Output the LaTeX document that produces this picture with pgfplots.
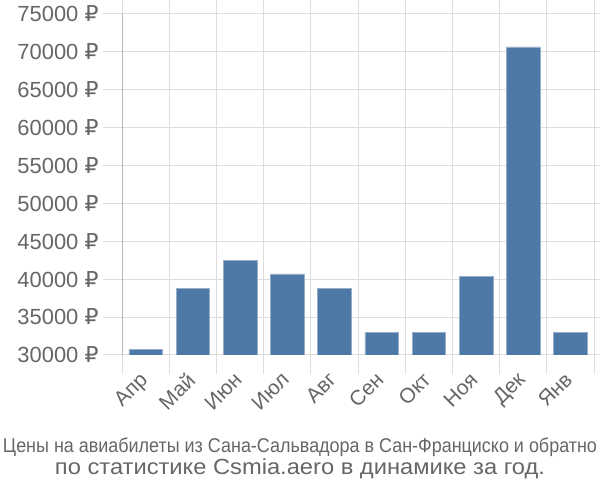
\documentclass[border=0pt]{standalone}
\usepackage{pgfplots}
\pgfplotsset{compat=1.18}
\usepackage{fontspec}
\usepackage{graphicx}
\setmainfont{Liberation Sans}
\newfontfamily\rub{DejaVu Sans}
\definecolor{barc}{RGB}{78,121,167}
\definecolor{gridc}{RGB}{221,221,221}
\definecolor{axc}{RGB}{165,165,165}
\definecolor{txtc}{RGB}{102,102,102}
\begin{document}
\begin{tikzpicture}[x=1bp,y=1bp]
\useasboundingbox (0,0) rectangle (600,500);
\begin{axis}[
  at={(122bp,145bp)}, anchor=south west,
  scale only axis, width=472bp, height=341bp,
  xmin=-0.5, xmax=9.5, ymin=30000, ymax=75000,
  axis line style={draw=none},
  xtick={-0.5,0.5,...,9.5},
  xticklabels={},
  xmajorgrids=true,
  ytick={30000,35000,...,75000},
  scaled y ticks=false,
  ymajorgrids=true,
  grid style={draw=gridc, line width=1bp},
  tick align=outside,
  major tick length=19bp,
  tick style={draw=gridc, line width=1bp},
  yticklabel={\pgfmathprintnumber[fixed,precision=0,set thousands separator={}]{\tick}~{\rub ₽}},
  /pgf/number format/assume math mode=true,
  yticklabel style={font=\fontsize{22}{24}\selectfont, text=txtc, xshift=-1bp},
  extra x ticks={0,...,9},
  extra x tick labels={Апр,Май,Июн,Июл,Авг,Сен,Окт,Ноя,Дек,Янв},
  extra x tick style={
    tick style={draw=none},
    grid style={draw=none},
    xticklabel style={font=\fontsize{21}{24}\selectfont, text=txtc, rotate=45, anchor=north east, xshift=0.5bp, yshift=10.7bp},
  },
  clip=true,
]
\addplot[ybar, bar width=0.71, fill=barc, draw=barc!60!white, line width=0.5bp] coordinates {
  (0,30750) (1,38750) (2,42500) (3,40690) (4,38750)
  (5,32940) (6,32940) (7,40330) (8,70660) (9,32940)
};
\draw[axc, line width=1.2bp] (rel axis cs:0,1) -- (rel axis cs:0,0) -- ++(0,-19bp);
\end{axis}
\node[anchor=base, text=txtc, inner sep=0] at (300,47) {\resizebox{594bp}{\height}{\fontsize{20}{24}\selectfont Цены на авиабилеты из Сана-Сальвадора в Сан-Франциско и обратно}};
\node[anchor=base, text=txtc, inner sep=0] at (300,25) {\resizebox{490bp}{\height}{\fontsize{22}{24}\selectfont по статистике Csmia.aero в динамике за год.}};
\end{tikzpicture}
\end{document}
